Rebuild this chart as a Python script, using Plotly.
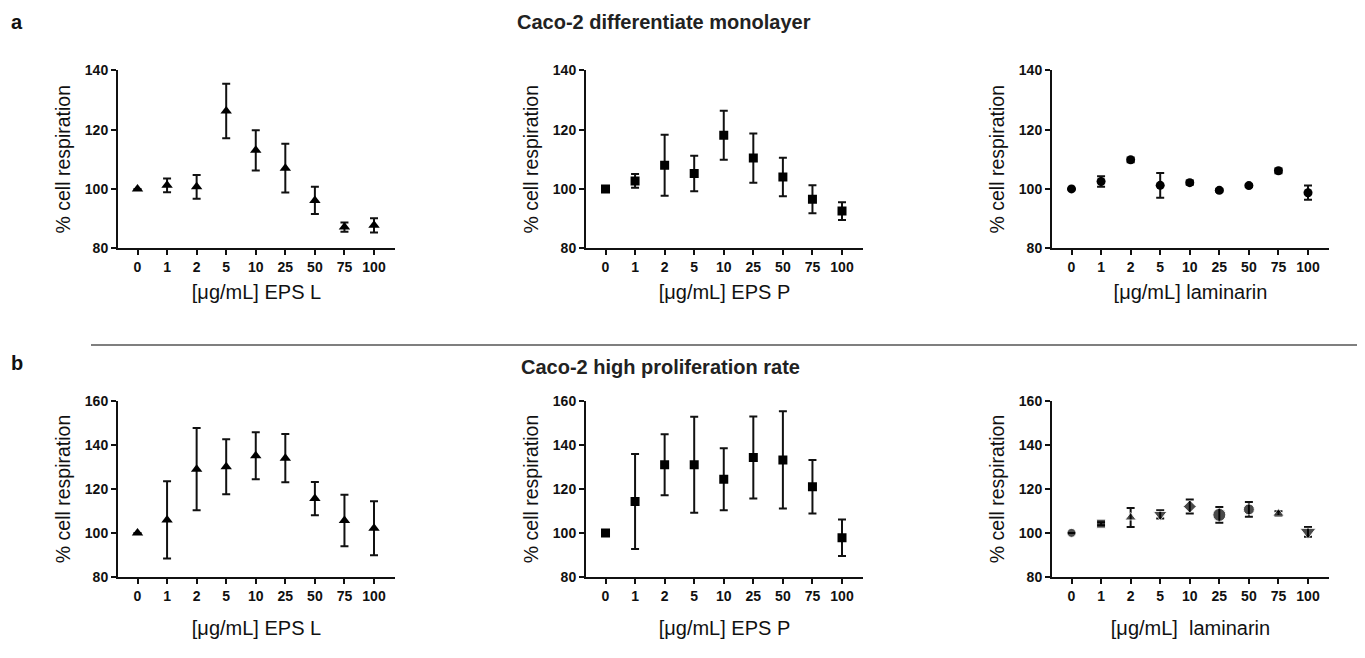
import plotly.graph_objects as go

# ---------------- data ----------------
doses = ["0", "1", "2", "5", "10", "25", "50", "75", "100"]

# a) Caco-2 differentiate monolayer
mono_epsl_mean = [100, 101.2, 100.7, 126.3, 113.0, 107.0, 96.1, 87.1, 87.7]
mono_epsl_err = [0, 2.3, 4.0, 9.2, 6.8, 8.2, 4.6, 1.6, 2.4]
mono_epsp_mean = [100, 102.7, 108.0, 105.2, 118.1, 110.4, 104.0, 96.5, 92.5]
mono_epsp_err = [0, 2.3, 10.3, 6.0, 8.3, 8.3, 6.5, 4.7, 3.0]
mono_lam_mean = [100, 102.5, 109.8, 101.2, 102.1, 99.5, 101.1, 106.1, 98.7]
mono_lam_err = [0, 1.8, 0.8, 4.2, 0.7, 0.5, 0.5, 0.8, 2.4]

# b) Caco-2 high proliferation rate
prol_epsl_mean = [100, 105.9, 129.0, 130.1, 135.1, 134.0, 115.6, 105.6, 102.1]
prol_epsl_err = [0, 17.6, 18.7, 12.5, 10.7, 11.0, 7.6, 11.7, 12.3]
prol_epsp_mean = [100, 114.3, 131.0, 131.0, 124.4, 134.3, 133.2, 121.0, 97.8]
prol_epsp_err = [0, 21.6, 13.9, 21.8, 14.1, 18.7, 22.1, 12.2, 8.3]
prol_lam_mean = [100, 104.2, 107.0, 108.4, 112.0, 108.2, 110.7, 108.8, 100.5]
prol_lam_err = [0, 0.7, 4.3, 1.9, 3.2, 3.6, 3.4, 1.0, 2.2]
prol_lam_symbols = ["circle", "square", "triangle-up", "triangle-down", "diamond",
                    "circle", "circle", "triangle-up", "triangle-down"]
prol_lam_sizes = [9, 9, 10, 12, 10, 13, 11, 10, 14]

x_titles_top = ["[\u03bcg/mL] EPS L", "[\u03bcg/mL] EPS P", "[\u03bcg/mL] laminarin"]
x_titles_bot = ["[\u03bcg/mL] EPS L", "[\u03bcg/mL] EPS P", "[\u03bcg/mL]  laminarin"]
y_title = "% cell respiration"
title_a = "Caco-2 differentiate monolayer"
title_b = "Caco-2 high proliferation rate"

# ---------------- layout geometry ----------------
PAGE_MARGIN = 8              # default body margin of the html page
W, H = 1365 - 2 * PAGE_MARGIN, 658 - 2 * PAGE_MARGIN
Y_SCALE, Y_OFF = 0.976, 16   # observed vertical mapping of the photographed page


def px_x(p):
    return (p - PAGE_MARGIN) / W


def px_y(p):
    f = p / Y_SCALE - Y_OFF
    return 1 - f / H


col_left = [118, 586, 1052]
col_width = 277
top_px = (70, 248)
bot_px = (401, 577)
x_title_standoff = [11, 18]

FONT = "Liberation Sans, Arial, Helvetica, sans-serif"
INK = "#111111"

fig = go.Figure()

panels = [
    (mono_epsl_mean, mono_epsl_err, "triangle-up", 10, 0, 0),
    (mono_epsp_mean, mono_epsp_err, "square", 9, 0, 1),
    (mono_lam_mean, mono_lam_err, "circle", 9, 0, 2),
    (prol_epsl_mean, prol_epsl_err, "triangle-up", 10, 1, 0),
    (prol_epsp_mean, prol_epsp_err, "square", 9, 1, 1),
    (prol_lam_mean, prol_lam_err, prol_lam_symbols, prol_lam_sizes, 1, 2),
]

for i, (mean, err, sym, size, row, col) in enumerate(panels):
    n = i + 1
    xa = "x" if n == 1 else f"x{n}"
    ya = "y" if n == 1 else f"y{n}"
    fig.add_trace(go.Scatter(
        x=doses, y=mean, mode="markers",
        marker=dict(symbol=sym, size=size, color="black"),
        error_y=dict(type="data", array=err, visible=True, color=INK,
                     thickness=2, width=4),
        xaxis=xa, yaxis=ya, showlegend=False,
    ))
    py = top_px if row == 0 else bot_px
    xkey = "xaxis" if n == 1 else f"xaxis{n}"
    ykey = "yaxis" if n == 1 else f"yaxis{n}"
    xt = x_titles_top[col] if row == 0 else x_titles_bot[col]
    fig.layout[xkey] = dict(
        domain=[px_x(col_left[col]), px_x(col_left[col] + col_width)],
        anchor=ya, type="category",
        range=[-0.66, 8.71],
        showgrid=False, zeroline=False,
        showline=True, linecolor=INK, linewidth=2,
        ticks="outside", ticklen=5, tickwidth=1.5, tickcolor=INK,
        tickfont=dict(family=FONT, size=14, color=INK, weight="bold"),
        title=dict(text=xt, font=dict(family=FONT, size=20, color=INK),
                   standoff=x_title_standoff[row]),
    )
    if row == 0:
        yr, ytv = [80, 140], [80, 100, 120, 140]
    else:
        yr, ytv = [80, 160], [80, 100, 120, 140, 160]
    fig.layout[ykey] = dict(
        domain=[px_y(py[1]), px_y(py[0])], anchor=xa, range=yr, tickvals=ytv,
        showgrid=False, zeroline=False,
        showline=True, linecolor=INK, linewidth=2,
        ticks="outside", ticklen=5, tickwidth=1.5, tickcolor=INK,
        tickfont=dict(family=FONT, size=14, color=INK, weight="bold"),
        title=dict(text=y_title, font=dict(family=FONT, size=19.5, color=INK),
                   standoff=9),
    )

annotations = [
    dict(text="a", x=px_x(17), y=px_y(22), xref="paper", yref="paper",
         showarrow=False, xanchor="center", yanchor="middle",
         font=dict(family=FONT, size=20, color=INK, weight="bold")),
    dict(text="b", x=px_x(17), y=px_y(363), xref="paper", yref="paper",
         showarrow=False, xanchor="center", yanchor="middle",
         font=dict(family=FONT, size=20, color=INK, weight="bold")),
    dict(text=title_a, x=px_x(664), y=px_y(22), xref="paper", yref="paper",
         showarrow=False, xanchor="center", yanchor="middle",
         font=dict(family=FONT, size=20, color="#222222", weight="bold")),
    dict(text=title_b, x=px_x(660), y=px_y(367), xref="paper", yref="paper",
         showarrow=False, xanchor="center", yanchor="middle",
         font=dict(family=FONT, size=20, color="#222222", weight="bold")),
]

fig.update_layout(
    width=W, height=H,
    margin=dict(l=0, r=0, t=0, b=0),
    paper_bgcolor="white", plot_bgcolor="white",
    annotations=annotations,
    shapes=[dict(type="line", xref="paper", yref="paper",
                 x0=px_x(91), x1=1, y0=px_y(345), y1=px_y(345),
                 line=dict(color="#555555", width=1.5))],
)

fig.write_html("out.html")
